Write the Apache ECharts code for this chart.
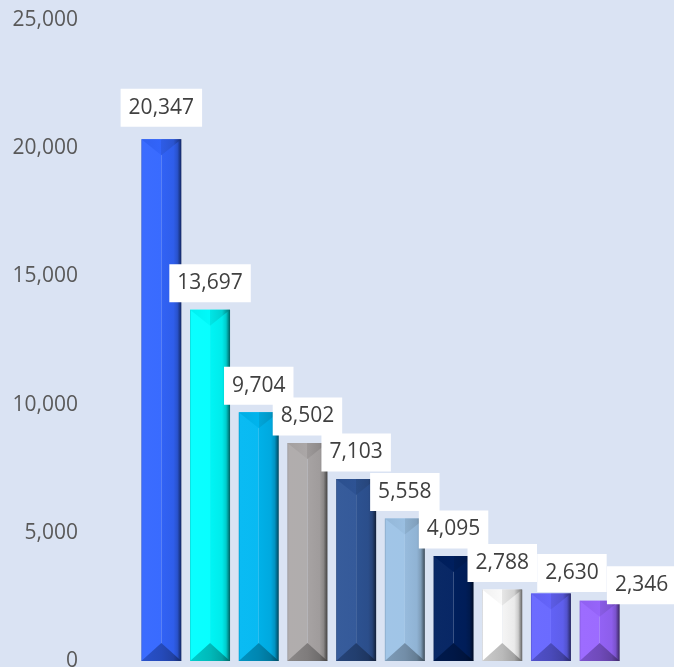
<!DOCTYPE html>
<html>
<head>
<meta charset="utf-8">
<script src="https://cdn.jsdelivr.net/npm/echarts@6/dist/echarts.min.js"></script>
<style>
  html, body { margin: 0; padding: 0; background: #dae3f3; }
  #chart { width: 674px; height: 667px; }
</style>
</head>
<body>
<div id="chart"></div>
<script>
// Categories (not labelled on the axis) and their values
const categories = ['Item 1', 'Item 2', 'Item 3', 'Item 4', 'Item 5', 'Item 6', 'Item 7', 'Item 8', 'Item 9', 'Item 10'];
const values = [20347, 13697, 9704, 8502, 7103, 5558, 4095, 2788, 2630, 2346];

// Value axis ticks
const yMin = 0;
const yMax = 25000;
const yStep = 5000;

// Fill colour of each bar
const barColors = ['#3366ff', '#00ffff', '#00b8f2', '#aeaaaa', '#2f5597', '#9dc3e6', '#002060', '#ffffff', '#6666ff', '#9966ff'];

// Manual nudges for a few value labels [dx, dy]
const labelShift = { 0: [0, -5], 8: [21, 6], 9: [42, 11] };

const fmt = v => String(v).replace(/\B(?=(\d{3})+(?!\d))/g, ',');

function rgb(hex) {
  const h = hex.replace('#', '');
  return [0, 2, 4].map(k => parseInt(h.slice(k, k + 2), 16));
}
// blend a colour toward white ('w') or black ('k')
function mix(hex, to, t) {
  const target = to === 'w' ? 255 : 0;
  return 'rgb(' + rgb(hex).map(c => Math.round(c + (target - c) * t)).join(',') + ')';
}
function hGrad(stops) {
  return { type: 'linear', x: 0, y: 0, x2: 1, y2: 0, colorStops: stops.map(s => ({ offset: s[0], color: s[1] })) };
}

// Bevelled column: two side facets, a top and a bottom triangular facet
function renderBevelBar(params, api) {
  const i = params.dataIndex;
  const top = api.coord([api.value(0), api.value(1)]);
  const bottom = api.coord([api.value(0), 0]);
  const band = api.size([1, 0])[0];
  const w = Math.round(band * 0.82);
  const xc = top[0];
  const x0 = xc - w / 2;
  const x1 = xc + w / 2;
  const yT = top[1];
  const yB = bottom[1];
  const h = yB - yT;
  const base = barColors[i];
  const dT = Math.min(w * 0.4, h / 2);
  const dB = Math.min(w * 0.45, h / 2);

  return {
    type: 'group',
    children: [
      {
        type: 'rect',
        shape: { x: x0, y: yT, width: w / 2, height: h },
        style: { fill: hGrad([[0, mix(base, 'k', 0.18)], [0.06, mix(base, 'w', 0.04)], [1, mix(base, 'w', 0.03)]]) }
      },
      {
        type: 'rect',
        shape: { x: xc, y: yT, width: w / 2, height: h },
        style: { fill: hGrad([[0, mix(base, 'k', 0.04)], [0.6, mix(base, 'k', 0.08)], [0.8, mix(base, 'k', 0.2)], [1, mix(base, 'k', 0.62)]]) }
      },
      {
        type: 'polygon',
        shape: { points: [[x0, yT], [x1, yT], [xc, yT + dT]] },
        style: {
          fill: hGrad([[0, mix(base, 'k', 0.06)], [0.5, mix(base, 'k', 0.02)], [0.5, mix(base, 'k', 0.1)], [0.8, mix(base, 'k', 0.18)], [1, mix(base, 'k', 0.55)]])
        }
      },
      {
        type: 'polygon',
        shape: { points: [[x0, yB], [x1, yB], [xc, yB - dB]] },
        style: {
          fill: hGrad([[0, mix(base, 'k', 0.2)], [0.5, mix(base, 'k', 0.27)], [0.8, mix(base, 'k', 0.36)], [1, mix(base, 'k', 0.6)]])
        }
      }
    ]
  };
}

const chart = echarts.init(document.getElementById('chart'), null, { renderer: 'canvas' });

chart.setOption({
  backgroundColor: '#dae3f3',
  animation: false,
  grid: { left: 137, right: 50, top: 20, bottom: 6, containLabel: false, outerBoundsMode: 'none' },
  xAxis: {
    type: 'category',
    data: categories,
    axisLine: { show: false },
    axisTick: { show: false },
    axisLabel: { show: false },
    splitLine: { show: false }
  },
  yAxis: {
    type: 'value',
    min: yMin,
    max: yMax,
    interval: yStep,
    axisLine: { show: false },
    axisTick: { show: false },
    splitLine: { show: false },
    axisLabel: {
      margin: 59,
      color: '#595959',
      fontFamily: 'Open Sans',
      fontSize: 21,
      formatter: v => fmt(v)
    }
  },
  series: [
    {
      type: 'custom',
      renderItem: renderBevelBar,
      data: values.map((v, i) => [categories[i], v]),
      encode: { x: 0, y: 1 },
      z: 2,
      silent: true
    },
    {
      type: 'bar',
      data: values.map((v, i) => labelShift[i] ? { value: v, label: { offset: labelShift[i] } } : v),
      barWidth: 40,
      itemStyle: { color: 'rgba(0,0,0,0)' },
      z: 5,
      silent: true,
      label: {
        show: true,
        position: 'top',
        distance: 7.5,
        formatter: p => fmt(p.value),
        color: '#404040',
        fontFamily: 'Open Sans',
        fontSize: 21,
        lineHeight: 26,
        backgroundColor: '#ffffff',
        padding: [6, 8]
      }
    }
  ]
});
</script>
</body>
</html>
